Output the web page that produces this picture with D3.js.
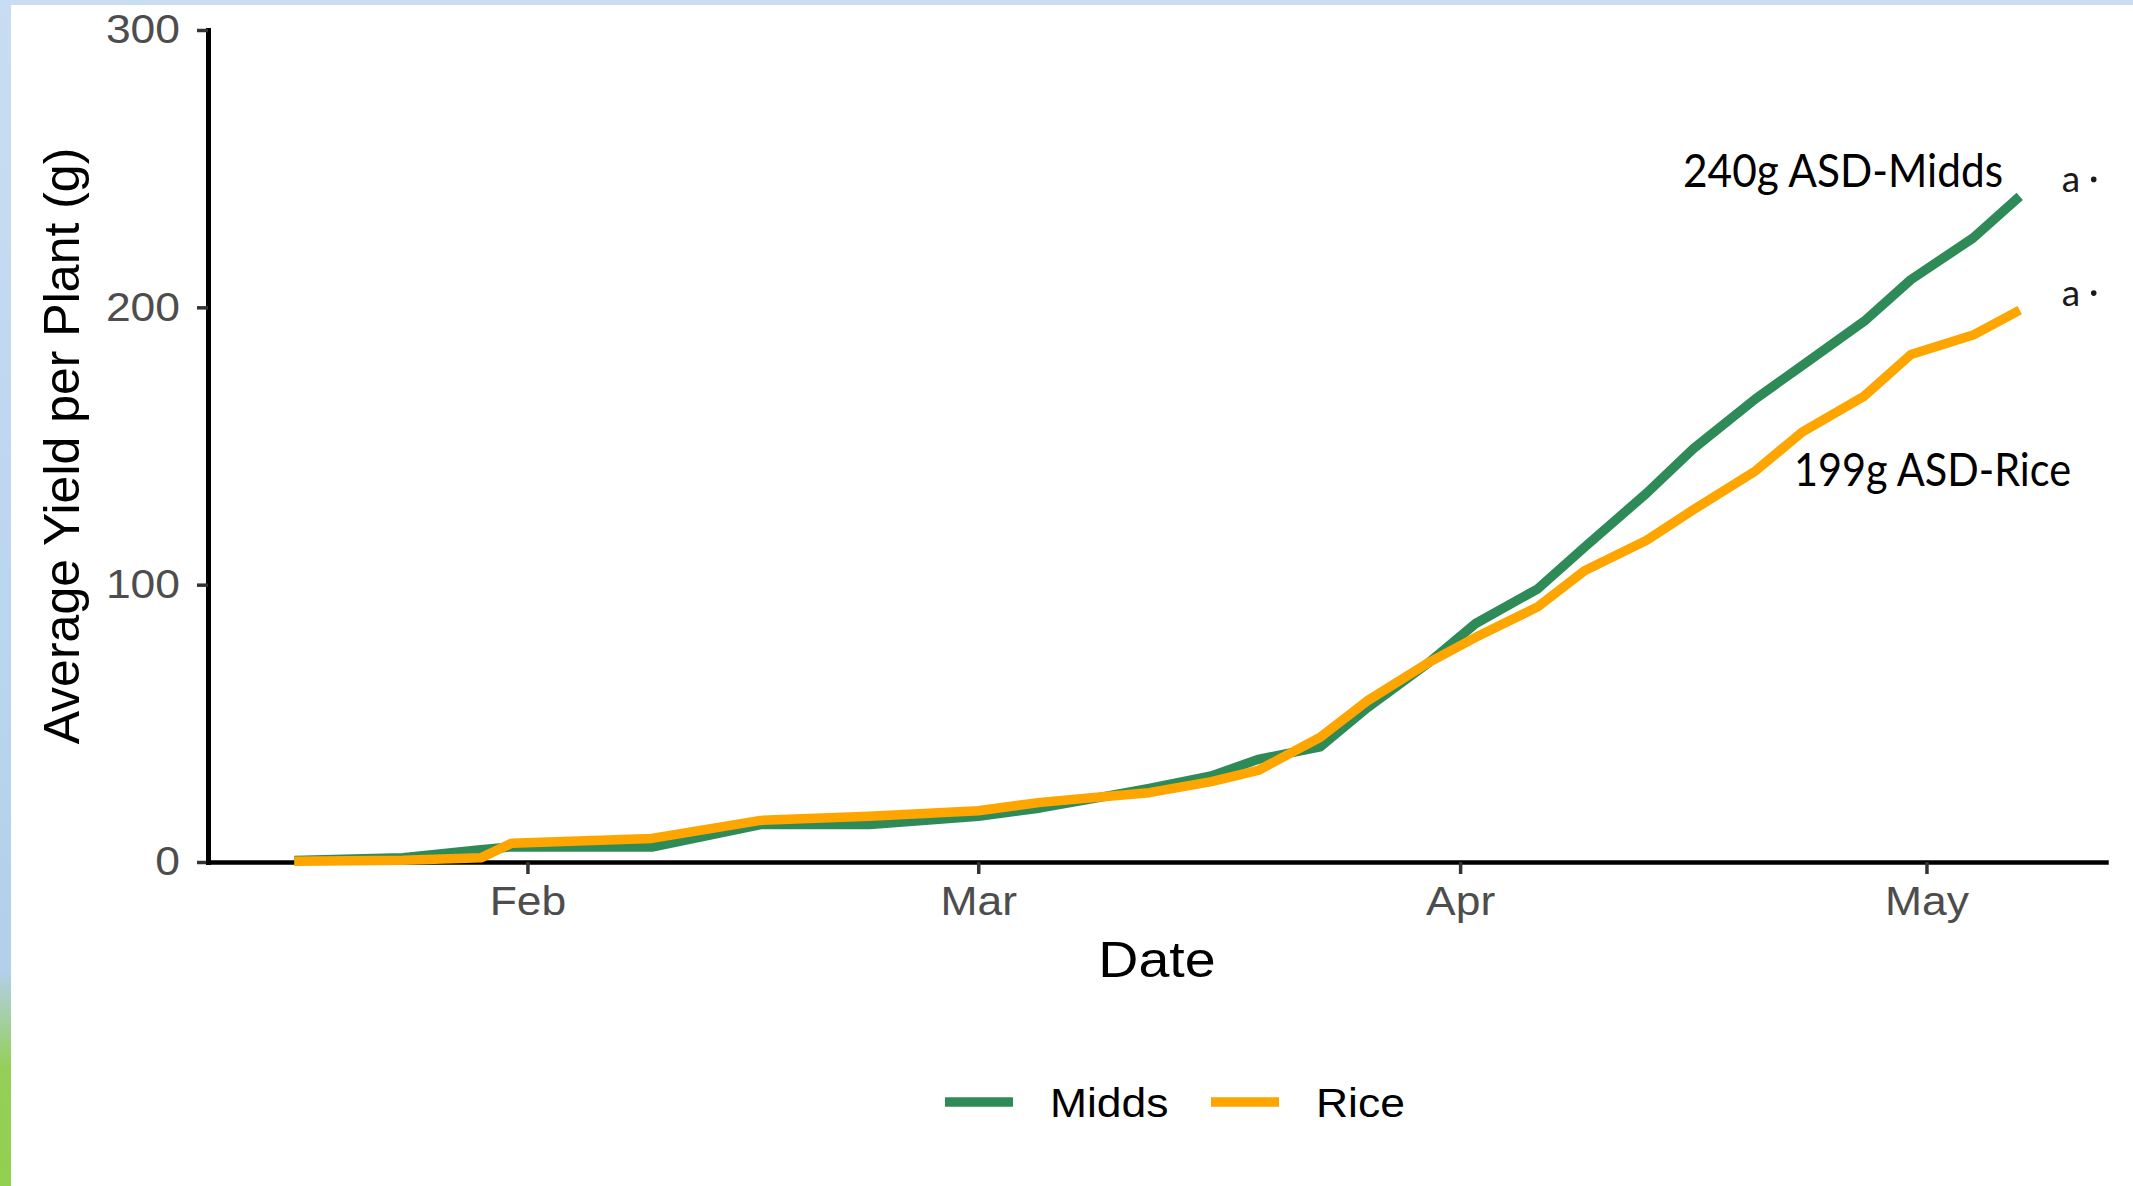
<!DOCTYPE html>
<html>
<head>
<meta charset="utf-8">
<script src="https://cdn.jsdelivr.net/npm/d3@7"></script>
<style>
  body { margin: 0; background: #fff; }
  svg { display: block; }
</style>
</head>
<body>
<svg id="chart" width="2133" height="1186"></svg>
<script>
// Harvest dates and cumulative average yield per plant (g)
const dates = ["2020-01-17","2020-01-24","2020-01-29","2020-01-31","2020-02-09","2020-02-16",
  "2020-02-23","2020-03-01","2020-03-05","2020-03-09","2020-03-12","2020-03-16","2020-03-19",
  "2020-03-23","2020-03-26","2020-03-30","2020-04-02","2020-04-06","2020-04-09","2020-04-13",
  "2020-04-16","2020-04-20","2020-04-23","2020-04-27","2020-04-30","2020-05-04","2020-05-07"];
const midds = [0.5, 1.5, 4.4, 5.5, 5.4, 13.5, 13.5, 16.5, 19.5, 23.5, 26.5, 31, 37, 41.5,
  55.5, 72, 86, 98.5, 113.5, 133, 149, 167, 179, 195, 210, 225, 240];
const rice = [0.3, 0.6, 1.5, 6.8, 8.5, 15, 16.5, 18.5, 21.5, 23.5, 25, 29, 33, 45,
  58, 72, 81, 92, 105, 116, 127, 141, 155, 168, 183, 190, 199];

const seriesNames = ["Midds", "Rice"];
const seriesColors = ["#2e8b57", "#ffa500"];
const yTicks = [0, 100, 200, 300];
const monthTicks = ["2020-02-01", "2020-03-01", "2020-04-01", "2020-05-01"];
const endLabels = ["240g ASD-Midds", "199g ASD-Rice"];
const groupLetters = ["a", "a"];

const parse = d3.utcParse("%Y-%m-%d");
const dateValues = dates.map(parse);
const series = [midds, rice].map((vals, i) => ({
  name: seriesNames[i],
  color: seriesColors[i],
  points: vals.map((v, j) => ({ date: dateValues[j], value: v }))
}));

const svg = d3.select("#chart");
const font = "'Liberation Sans', Arial, Helvetica, sans-serif";
const hStretch = 1.11;   // the exported figure is slightly wide

// text widened horizontally to the figure's aspect
function widen(sel) {
  sel.each(function () {
    const w = this.getComputedTextLength();
    d3.select(this).attr("textLength", w * hStretch).attr("lengthAdjust", "spacingAndGlyphs");
  });
}

// slide frame: pale blue band across the top, strip down the left fading to green
const defs = svg.append("defs");
const grad = defs.append("linearGradient").attr("id", "strip")
  .attr("x1", 0).attr("y1", 0).attr("x2", 0).attr("y2", 1);
[[0, "#c8ddf1"], [0.5, "#bcd6ee"], [0.82, "#b3cfe9"], [0.9, "#95cf58"], [1, "#92d050"]]
  .forEach(([o, c]) => grad.append("stop").attr("offset", o).attr("stop-color", c));
svg.append("rect").attr("x", 0).attr("y", 0).attr("width", 2133).attr("height", 5).attr("fill", "#c8ddf1");
svg.append("rect").attr("x", 0).attr("y", 0).attr("width", 11).attr("height", 1186).attr("fill", "url(#strip)");

// scales: time axis padded 5% either side of the data range
const ext = d3.extent(dateValues);
const pad = (ext[1] - ext[0]) * 0.05;
const x = d3.scaleUtc()
  .domain([new Date(+ext[0] - pad), new Date(+ext[1] + pad)])
  .range([208, 2106]);
const y = d3.scaleLinear().domain([0, 300]).range([862, 30]);

// y axis
const gy = svg.append("g").attr("transform", "translate(208,0)")
  .call(d3.axisLeft(y).tickValues(yTicks).tickSize(11).tickSizeOuter(0).tickPadding(17));
gy.select(".domain").attr("stroke", "#000").attr("stroke-width", 5).attr("stroke-linecap", "square");
gy.selectAll(".tick line").attr("stroke", "#333").attr("stroke-width", 3.5);
gy.selectAll(".tick text").attr("fill", "#4d4d4d").attr("font-family", font).attr("font-size", 40).call(widen);

// x axis
const gx = svg.append("g").attr("transform", "translate(0,862)")
  .call(d3.axisBottom(x).tickValues(monthTicks.map(parse)).tickFormat(d3.utcFormat("%b"))
    .tickSize(12).tickSizeOuter(0).tickPadding(13));
gx.select(".domain").attr("stroke", "#000").attr("stroke-width", 4.5).attr("stroke-linecap", "square");
gx.selectAll(".tick line").attr("stroke", "#333").attr("stroke-width", 3.5);
gx.selectAll(".tick text").attr("fill", "#4d4d4d").attr("font-family", font).attr("font-size", 40).call(widen);

// axis titles
svg.append("text").attr("x", 1157).attr("y", 977).attr("text-anchor", "middle")
  .attr("font-family", font).attr("font-size", 50).attr("fill", "#000").text("Date").call(widen);
svg.append("text").attr("transform", "translate(79,446) rotate(-90)").attr("text-anchor", "middle")
  .attr("font-family", font).attr("font-size", 50).attr("fill", "#000").text("Average Yield per Plant (g)");

// yield lines (Rice drawn last, on top)
const line = d3.line().x(d => x(d.date)).y(d => y(d.value));
svg.append("g").selectAll("path").data(series).join("path")
  .attr("d", d => line(d.points))
  .attr("fill", "none")
  .attr("stroke", d => d.color)
  .attr("stroke-width", 9.5)
  .attr("stroke-linejoin", "round")
  .attr("stroke-linecap", "butt");

// legend
const legendX = [945, 1211];
const lg = svg.append("g").selectAll("g").data(series).join("g")
  .attr("transform", (d, i) => `translate(${legendX[i]},1102)`);
lg.append("line").attr("x1", 0).attr("x2", 68).attr("y1", 0).attr("y2", 0)
  .attr("stroke", d => d.color).attr("stroke-width", 9.5);
lg.append("text").attr("x", 105).attr("y", 14.5)
  .attr("font-family", font).attr("font-size", 40).attr("fill", "#000")
  .text(d => d.name).call(widen);

// end-of-season annotations
const annoFont = "Lato, 'Open Sans', sans-serif";
const lastDate = dateValues[dateValues.length - 1];
const labelPos = [{ x: 1683, y: 187, w: 320 }, { x: 1794, y: 486, w: 277 }];
svg.append("g").selectAll("text").data(endLabels).join("text")
  .attr("x", (d, i) => labelPos[i].x).attr("y", (d, i) => labelPos[i].y)
  .attr("font-family", annoFont).attr("font-size", 46).attr("fill", "#000")
  .attr("textLength", (d, i) => labelPos[i].w).attr("lengthAdjust", "spacingAndGlyphs")
  .text(d => d);

// significance letters beside each series' final value
const finals = [midds[midds.length - 1], rice[rice.length - 1]];
const letters = svg.append("g").selectAll("g").data(groupLetters).join("g")
  .attr("transform", (d, i) => `translate(${x(lastDate) + 42},${y(finals[i]) - 12})`);
letters.append("text").attr("x", 0).attr("y", 8)
  .attr("font-family", annoFont).attr("font-size", 37).attr("fill", "#1a1a1a").text(d => d);
letters.append("circle").attr("cx", 32).attr("cy", -5).attr("r", 2.8).attr("fill", "#1a1a1a");
</script>
</body>
</html>
